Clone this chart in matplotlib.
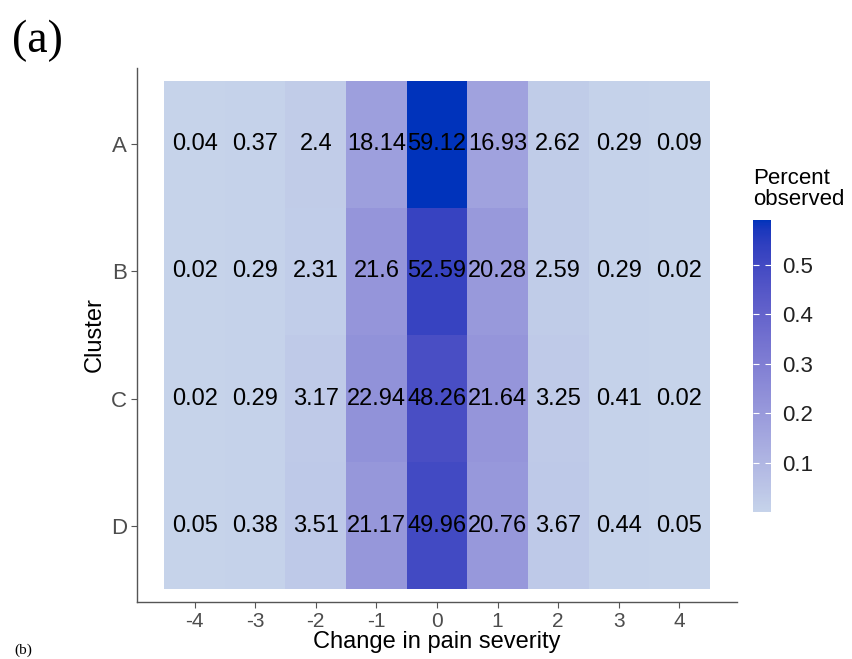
import matplotlib
matplotlib.use("Agg")
import matplotlib.pyplot as plt
import numpy as np
from matplotlib.colors import ListedColormap, to_rgb

# data: percent observed per cluster and change in pain severity
clusters = ['A', 'B', 'C', 'D']
changes = [-4, -3, -2, -1, 0, 1, 2, 3, 4]
pct_A = [0.04, 0.37, 2.4, 18.14, 59.12, 16.93, 2.62, 0.29, 0.09]
pct_B = [0.02, 0.29, 2.31, 21.6, 52.59, 20.28, 2.59, 0.29, 0.02]
pct_C = [0.02, 0.29, 3.17, 22.94, 48.26, 21.64, 3.25, 0.41, 0.02]
pct_D = [0.05, 0.38, 3.51, 21.17, 49.96, 20.76, 3.67, 0.44, 0.05]
cb_ticks = [0.1, 0.2, 0.3, 0.4, 0.5]

low_col = "#c6d3ea"
high_col = "#0033bb"


# --- Lab interpolation like ggplot's scale_fill_gradient ---
def srgb_to_lab(c):
    c = np.array(c, dtype=float)
    lin = np.where(c <= 0.04045, c / 12.92, ((c + 0.055) / 1.055) ** 2.4)
    m = np.array([[0.4124, 0.3576, 0.1805],
                  [0.2126, 0.7152, 0.0722],
                  [0.0193, 0.1192, 0.9505]])
    xyz = m @ lin / np.array([0.95047, 1.0, 1.08883])
    f = np.where(xyz > 0.008856, np.cbrt(xyz), 7.787 * xyz + 16 / 116)
    return np.array([116 * f[1] - 16, 500 * (f[0] - f[1]), 200 * (f[1] - f[2])])


def lab_to_srgb(lab):
    L, a, b = lab
    fy = (L + 16) / 116
    fx = fy + a / 500
    fz = fy - b / 200
    f = np.array([fx, fy, fz])
    xyz = np.where(f ** 3 > 0.008856, f ** 3, (f - 16 / 116) / 7.787)
    xyz = xyz * np.array([0.95047, 1.0, 1.08883])
    minv = np.array([[3.2406, -1.5372, -0.4986],
                     [-0.9689, 1.8758, 0.0415],
                     [0.0557, -0.2040, 1.0570]])
    lin = minv @ xyz
    c = np.where(lin <= 0.0031308, 12.92 * lin, 1.055 * np.clip(lin, 0, None) ** (1 / 2.4) - 0.055)
    return np.clip(c, 0, 1)


lab_lo = srgb_to_lab(to_rgb(low_col))
lab_hi = srgb_to_lab(to_rgb(high_col))
cols = [lab_to_srgb(lab_lo + t * (lab_hi - lab_lo)) for t in np.linspace(0, 1, 256)]
cmap = ListedColormap(cols)

plt.rcParams['font.family'] = ['Liberation Sans', 'DejaVu Sans']

values = np.array([pct_A, pct_B, pct_C, pct_D])
fill = values / 100.0
vmin, vmax = fill.min(), fill.max()

fig = plt.figure(figsize=(8.52, 6.59), dpi=100)
ax = fig.add_axes([137 / 852, 1 - 602 / 659, 600 / 852, 534 / 659])

ypos = np.arange(len(clusters), 0, -1)  # A at top
x_edges = np.append(np.array(changes) - 0.5, changes[-1] + 0.5)
y_edges = np.arange(0.5, len(clusters) + 1, 1)
mesh = ax.pcolormesh(x_edges, y_edges, fill[::-1], cmap=cmap, vmin=vmin, vmax=vmax,
                     shading='flat', edgecolor='none')

for i, row in enumerate(values):
    for j, v in enumerate(row):
        ax.text(changes[j], ypos[i], '{:g}'.format(v), ha='center', va='center',
                fontsize=17, color='black')

ax.set_xlim(-4.95, 4.95)
ax.set_ylim(0.4, 4.6)
ax.set_xticks(changes)
ax.set_xticklabels([str(c) for c in changes])
ax.set_yticks(ypos)
ax.set_yticklabels(clusters)
for s in ['top', 'right']:
    ax.spines[s].set_visible(False)
for s in ['left', 'bottom']:
    ax.spines[s].set_color('#555555')
    ax.spines[s].set_linewidth(1.0)
ax.tick_params(colors='#555555', labelcolor='#4d4d4d', length=4, width=0.8, pad=3)
ax.tick_params(axis='x', labelsize=15)
ax.tick_params(axis='y', labelsize=16)
ax.set_xlabel('Change in pain severity', fontsize=17, labelpad=0)
ax.set_ylabel('Cluster', fontsize=17, labelpad=4)

# colour bar
cax = fig.add_axes([753 / 852, 1 - 512 / 659, 18 / 852, 292 / 659])
cb = fig.colorbar(mesh, cax=cax, ticks=cb_ticks)
cb.outline.set_visible(False)
cax.tick_params(which='both', color='white', direction='in', length=4, width=0.8,
                labelsize=16, labelcolor='#222222', pad=8, left=True, right=True)
cax.set_yticklabels(['{:g}'.format(t) for t in cb_ticks])
fig.text(753 / 852, 1 - 205 / 659, 'Percent\nobserved', fontsize=16, ha='left',
         va='baseline', linespacing=1.0)

# panel labels
fig.text(12 / 852, 1 - 52 / 659, '(a)', fontsize=33, family='Liberation Serif', va='baseline')
fig.text(14 / 852, 5 / 659, '(b)', fontsize=11, family='Liberation Serif', va='baseline')

fig.savefig('out.png', dpi=100)
